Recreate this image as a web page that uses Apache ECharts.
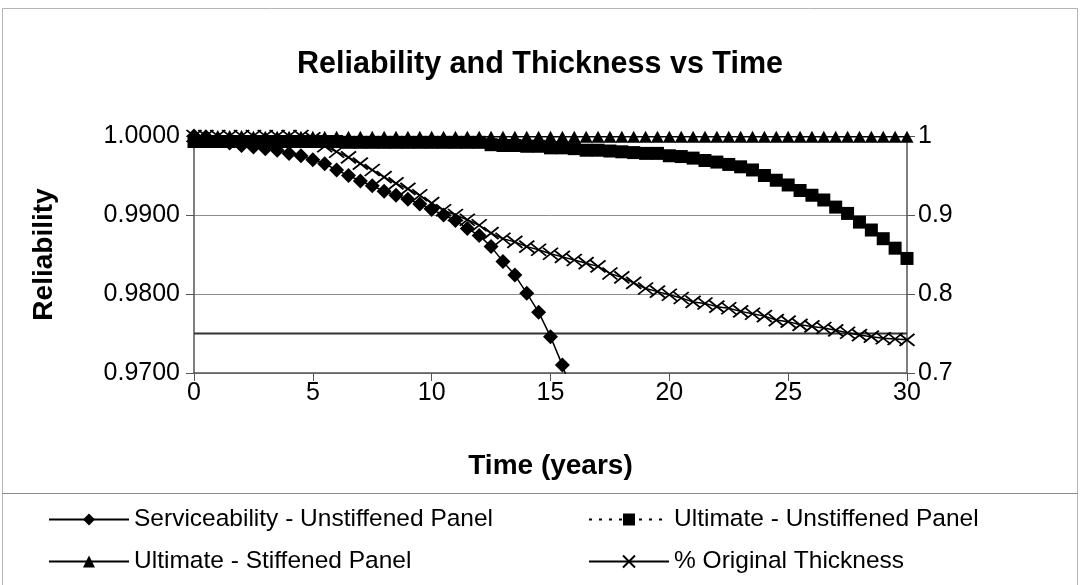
<!DOCTYPE html>
<html>
<head>
<meta charset="utf-8">
<title>Reliability and Thickness vs Time</title>
<script src="https://cdn.jsdelivr.net/npm/echarts@6/dist/echarts.min.js"></script>
<style>
  html, body { margin: 0; padding: 0; background: #ffffff; }
  #chart { width: 1080px; height: 585px; }
</style>
</head>
<body>
<div id="chart"></div>
<script>
// Time in years, half-year steps
const years = [
  0, 0.5, 1, 1.5, 2, 2.5, 3, 3.5, 4, 4.5, 5, 5.5, 6, 6.5, 7, 7.5, 8, 8.5, 9, 9.5,
  10, 10.5, 11, 11.5, 12, 12.5, 13, 13.5, 14, 14.5, 15, 15.5, 16, 16.5, 17, 17.5, 18, 18.5, 19, 19.5,
  20, 20.5, 21, 21.5, 22, 22.5, 23, 23.5, 24, 24.5, 25, 25.5, 26, 26.5, 27, 27.5, 28, 28.5, 29, 29.5, 30
];

// Serviceability reliability, unstiffened panel (drops below the axis after 15.5 years)
const serviceabilityUnstiffened = [
  1.0000, 0.9999, 0.9996, 0.9991, 0.9988, 0.9986, 0.9984, 0.9982, 0.9978, 0.9975,
  0.9970, 0.9965, 0.9957, 0.9950, 0.9943, 0.9937, 0.9930, 0.9925, 0.9920, 0.9914,
  0.9907, 0.9900, 0.9893, 0.9883, 0.9874, 0.9860, 0.9841, 0.9824, 0.9801, 0.9777,
  0.9746, 0.9710, 0.9667
];

// Ultimate reliability, unstiffened panel
const ultimateUnstiffened = [
  0.9993, 0.9993, 0.9993, 0.9993, 0.9993, 0.9993, 0.9993, 0.9993, 0.9993, 0.9993,
  0.9993, 0.9993, 0.9993, 0.9992, 0.9992, 0.9992, 0.9992, 0.9992, 0.9992, 0.9992,
  0.9992, 0.9992, 0.9992, 0.9992, 0.9992, 0.9989, 0.9988, 0.9988, 0.9987, 0.9987,
  0.9985, 0.9985, 0.9984, 0.9982, 0.9982, 0.9981, 0.9980, 0.9979, 0.9978, 0.9978,
  0.9975, 0.9974, 0.9972, 0.9969, 0.9967, 0.9964, 0.9961, 0.9957, 0.9950, 0.9944,
  0.9938, 0.9931, 0.9925, 0.9919, 0.9910, 0.9902, 0.9891, 0.9881, 0.9870, 0.9858,
  0.9845
];

// Ultimate reliability, stiffened panel
const ultimateStiffened = [
  1.0000, 1.0000, 1.0000, 1.0000, 1.0000, 0.9999, 0.9999, 0.9999, 0.9999, 0.9999,
  0.9999, 0.9999, 0.9999, 0.9999, 0.9999, 0.9999, 0.9999, 0.9999, 0.9999, 0.9999,
  0.9999, 0.9999, 0.9999, 0.9999, 0.9999, 0.9999, 0.9999, 0.9999, 0.9999, 0.9999,
  0.9999, 0.9999, 0.9999, 0.9999, 0.9999, 0.9999, 0.9999, 0.9999, 0.9999, 0.9999,
  0.9999, 0.9999, 0.9999, 0.9999, 0.9999, 0.9999, 0.9999, 0.9999, 0.9999, 0.9999,
  0.9999, 0.9999, 0.9999, 0.9999, 0.9999, 0.9999, 0.9999, 0.9999, 0.9999, 0.9999,
  0.9999
];

// Remaining plate thickness as a fraction of the original (right axis)
const originalThickness = [
  1.000, 1.000, 1.000, 1.000, 1.000, 1.000, 1.000, 1.000, 1.000, 1.000,
  0.997, 0.987, 0.980, 0.973, 0.965, 0.957, 0.948, 0.940, 0.933, 0.925,
  0.915, 0.906, 0.900, 0.894, 0.887, 0.877, 0.870, 0.866, 0.860, 0.856,
  0.851, 0.847, 0.843, 0.839, 0.835, 0.826, 0.821, 0.814, 0.807, 0.803,
  0.799, 0.795, 0.790, 0.788, 0.784, 0.782, 0.778, 0.775, 0.772, 0.767,
  0.765, 0.761, 0.759, 0.757, 0.754, 0.751, 0.748, 0.746, 0.744, 0.743,
  0.742
];

// Target reliability level
const targetReliability = [0.975, 0.975];
const targetYears = [0, 30];

// Axis ranges and steps
const timeRange = [0, 30];
const timeStep = 5;
const reliabilityRange = [0.97, 1.0];
const reliabilityStep = 0.01;
const thicknessRange = [0.7, 1.0];
const thicknessStep = 0.1;

const seriesNames = [
  'Serviceability - Unstiffened Panel',
  'Ultimate - Unstiffened Panel',
  'Ultimate - Stiffened Panel',
  '% Original Thickness'
];

function pairs(xs, ys) {
  return ys.map(function (v, i) { return [xs[i], v]; });
}

const FONT = "'Liberation Sans', Arial, sans-serif";
const crossPath = 'path://M0,0L10,10M10,0L0,10';

const chart = echarts.init(document.getElementById('chart'), null, { renderer: 'canvas' });

function legendAt(name, left, top) {
  return {
    data: [name],
    left: left,
    top: top,
    itemWidth: 80,
    itemHeight: 15,
    itemGap: 6,
    selectedMode: false,
    textStyle: { fontFamily: FONT, fontSize: 24.5, color: '#000' }
  };
}

const option = {
  animation: false,
  backgroundColor: '#ffffff',
  title: {
    text: 'Reliability and Thickness vs Time',
    left: 'center',
    top: 44,
    textStyle: { fontFamily: FONT, fontSize: 30.5, fontWeight: 'bold', color: '#000' }
  },
  legend: [
    legendAt(seriesNames[0], 43, 502),
    legendAt(seriesNames[1], 583, 502),
    legendAt(seriesNames[2], 43, 544),
    legendAt(seriesNames[3], 583, 544)
  ],
  grid: { left: 194, right: 173, top: 136, bottom: 212 },
  xAxis: {
    type: 'value',
    min: timeRange[0],
    max: timeRange[1],
    interval: timeStep,
    name: 'Time (years)',
    nameLocation: 'middle',
    nameGap: 79,
    nameTextStyle: { fontFamily: FONT, fontSize: 28, fontWeight: 'bold', color: '#000' },
    axisLine: { lineStyle: { color: '#555', width: 1.5 } },
    axisTick: { length: 8, lineStyle: { color: '#555' } },
    axisLabel: { margin: 8, fontFamily: FONT, fontSize: 25, color: '#000' },
    splitLine: { show: false }
  },
  yAxis: [
    {
      type: 'value',
      min: reliabilityRange[0],
      max: reliabilityRange[1],
      interval: reliabilityStep,
      name: 'Reliability',
      nameLocation: 'middle',
      nameGap: 136,
      nameTextStyle: { fontFamily: FONT, fontSize: 28, fontWeight: 'bold', color: '#000' },
      axisLine: { show: true, lineStyle: { color: '#555', width: 1.5 } },
      axisTick: { show: true, length: 8, lineStyle: { color: '#555' } },
      axisLabel: {
        margin: 14,
        fontFamily: FONT, fontSize: 25, color: '#000',
        formatter: function (v) { return v.toFixed(4); }
      },
      splitLine: { show: true, lineStyle: { color: '#8c8c8c', width: 1 } }
    },
    {
      type: 'value',
      min: thicknessRange[0],
      max: thicknessRange[1],
      interval: thicknessStep,
      position: 'right',
      axisLine: { show: true, lineStyle: { color: '#555', width: 1.5 } },
      axisTick: { show: true, length: 8, lineStyle: { color: '#555' } },
      axisLabel: {
        margin: 11,
        fontFamily: FONT, fontSize: 25, color: '#000',
        formatter: function (v) { return String(Math.round(v * 10) / 10); }
      },
      splitLine: { show: false }
    }
  ],
  graphic: [
    {
      type: 'rect',
      shape: { x: 2.5, y: 8.5, width: 1075, height: 580 },
      style: { fill: 'none', stroke: '#b5b5b5', lineWidth: 1 },
      silent: true
    },
    {
      type: 'line',
      shape: { x1: 2.5, y1: 493.5, x2: 1077.5, y2: 493.5 },
      style: { stroke: '#8c8c8c', lineWidth: 1.2 },
      silent: true
    }
  ],
  series: [
    {
      name: 'Target',
      type: 'line',
      yAxisIndex: 0,
      data: pairs(targetYears, targetReliability),
      showSymbol: false,
      symbol: 'none',
      lineStyle: { color: '#333', width: 2 },
      z: 1,
      silent: true
    },
    {
      name: seriesNames[0],
      type: 'line',
      yAxisIndex: 0,
      data: pairs(years, serviceabilityUnstiffened),
      symbol: 'diamond',
      symbolSize: 15,
      color: '#000',
      itemStyle: { color: '#000' },
      lineStyle: { color: '#000', width: 1.5 },
      z: 3
    },
    {
      name: seriesNames[1],
      type: 'line',
      yAxisIndex: 0,
      data: pairs(years, ultimateUnstiffened),
      symbol: 'rect',
      symbolSize: 13,
      color: '#000',
      itemStyle: { color: '#000' },
      lineStyle: { color: '#000', width: 1.5, type: [3, 7] },
      z: 3
    },
    {
      name: seriesNames[2],
      type: 'line',
      yAxisIndex: 0,
      data: pairs(years, ultimateStiffened),
      symbol: 'triangle',
      symbolSize: [13, 12],
      color: '#000',
      itemStyle: { color: '#000' },
      lineStyle: { color: '#000', width: 1.5 },
      z: 4
    },
    {
      name: seriesNames[3],
      type: 'line',
      yAxisIndex: 1,
      data: pairs(years, originalThickness),
      symbol: crossPath,
      symbolSize: [15, 12],
      color: '#000',
      itemStyle: { color: '#000', borderColor: '#000', borderWidth: 1.8 },
      lineStyle: { color: '#000', width: 1.5 },
      z: 5
    }
  ]
};

chart.setOption(option);
</script>
</body>
</html>
